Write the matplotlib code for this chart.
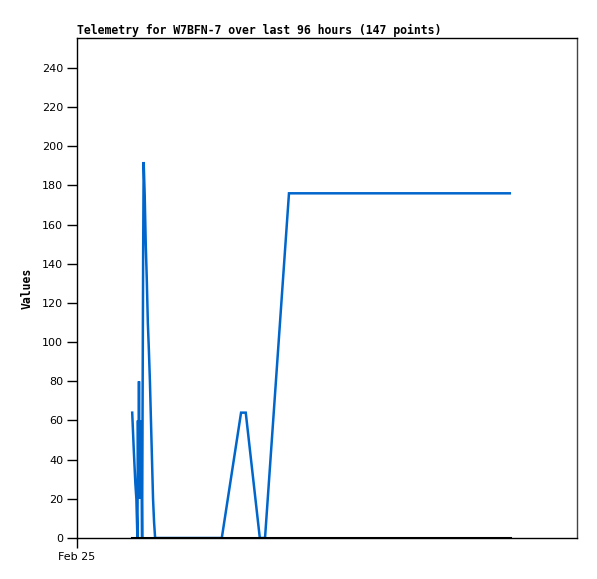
import matplotlib
matplotlib.use('Agg')
import matplotlib.pyplot as plt

# hours since Feb 25 00:00 and telemetry values
hours = [10.6, 10.9, 11.2, 11.4, 11.6, 11.7, 11.8, 11.9, 12.0, 12.1, 12.2, 12.3,
         12.4, 12.5, 12.7, 12.8, 13.0, 13.2, 13.4, 13.6, 13.8, 14.0, 14.2, 14.4,
         14.6, 14.8, 15.0, 27.8, 31.5, 32.4, 35.1, 36.1, 40.7, 83.1]
values = [64, 45, 28, 20, 0, 60, 20, 80, 20, 60, 20, 60,
          30, 0, 145, 192, 175, 150, 132, 110, 96, 80, 60, 40,
          20, 8, 0, 0, 64, 64, 0, 0, 176, 176]
zero_hours = [10.6, 83.1]
zero_values = [0, 0]

fig = plt.figure(figsize=(5.97, 5.79), dpi=100, facecolor='white')
ax = fig.add_axes([77/597, 41/579, 500/597, 500/579])

ax.plot(hours, values, color='#0066cc', lw=1.8, solid_joinstyle='miter')
ax.plot(zero_hours, zero_values, color='black', lw=2.2)

ax.set_xlim(0, 96)
ax.set_ylim(0, 255.3)
ax.set_yticks(range(0, 241, 20))
ax.set_xticks([0])
ax.set_xticklabels(['Feb 25'])
ax.tick_params(axis='both', direction='out', length=7, width=1, labelsize=8,
               colors='black', pad=3)
for sp in ax.spines.values():
    sp.set_color('black')
    sp.set_linewidth(1)
ax.spines['right'].set_color('#444444')

ax.set_ylabel('Values', family='DejaVu Sans Mono', fontweight='bold', fontsize=8.3, labelpad=6)
ax.set_title('Telemetry for W7BFN-7 over last 96 hours (147 points)', loc='left',
             family='DejaVu Sans Mono', fontweight='bold', fontsize=8.3, pad=3)

fig.savefig('out.png', dpi=100, facecolor='white')
